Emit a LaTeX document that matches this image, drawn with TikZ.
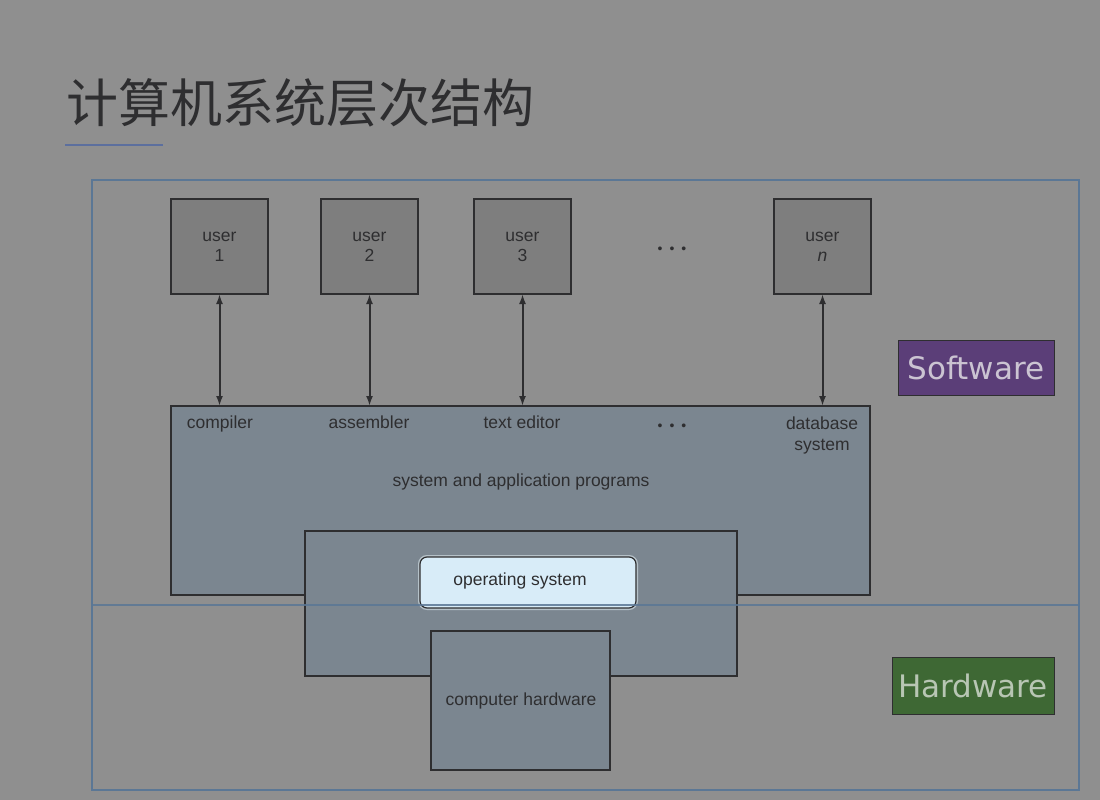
\documentclass[tikz,border=0pt]{standalone}
\usepackage{fontspec}
\setmainfont{Liberation Sans}
\newfontfamily\cjk{Noto Sans CJK SC}
\newfontfamily\tagfont{DejaVu Sans}
\usetikzlibrary{positioning}
\usetikzlibrary{arrows.meta}

\definecolor{bgcol}{HTML}{8F8F8F}
\definecolor{framecol}{HTML}{5B7795}
\definecolor{userfill}{HTML}{7E7E7E}
\definecolor{progfill}{HTML}{7B8690}
\definecolor{osfill}{HTML}{D8ECF8}
\definecolor{inkcol}{HTML}{2E2E30}
\definecolor{swfill}{HTML}{5B3E78}
\definecolor{hwfill}{HTML}{3E6834}

\newcommand{\threedots}{\fontsize{14}{14}\selectfont\textbullet\hspace{7pt}\textbullet\hspace{7pt}\textbullet}

\begin{document}
\begin{tikzpicture}[x=1pt,y=-1pt,
                    box/.style={draw=inkcol,line width=1.2pt,inner sep=0pt,outer sep=0pt},
                    userbox/.style={box,fill=userfill,minimum width=97pt,minimum height=95pt,
                                    align=center,font=\fontsize{17.5}{20}\selectfont,text=inkcol},
                    lbl/.style={font=\fontsize{17.5}{21.5}\selectfont,text=inkcol,align=center,
                                inner sep=0pt,text height=12.5pt,text depth=3.5pt},
                    tag/.style={draw=inkcol,line width=0.8pt,inner sep=0pt,
                                font=\tagfont\fontsize{31}{33}\selectfont},
                    link/.style={{Latex[length=10pt,width=7pt]}-{Latex[length=10pt,width=7pt]},
                                 line width=2pt,draw=inkcol}]
                    \fill[bgcol] (0,0) rectangle (1100,800);
                    \useasboundingbox (0,0) rectangle (1100,800);

                    \node[anchor=west,text=inkcol,font=\cjk\fontsize{52}{56}\selectfont] (title) at(63,103) {计算机系统层次结构};
                    \draw[color={rgb,255:red,92;green,111;blue,158},line width=2pt] (65,145) -- (163,145);

                    \coordinate (fnw) at(92,180);
                    \coordinate (fse) at(1079,790);
                    \draw[framecol,line width=1.2pt] (fnw) rectangle (fse);

                    \node[userbox] (u1) at(219.5,246.5) {user\\1};
                    \node[userbox] (u2) at(369.5,246.5) {user\\2};
                    \node[userbox] (u3) at(522.5,246.5) {user\\3};
                    \node[userbox] (un) at(822.5,246.5) {user\\\textit{n}};
                    \node[text=inkcol,inner sep=0pt] (udots) at(672,250) {\threedots};

                    \node[box,fill=progfill,minimum width=699pt,minimum height=189pt] (apps) at(520.5,500.5) {};
                    \foreach \u in {u1,u2,u3,un}
                        \draw[link] (\u.south) -- (\u.south |- apps.north);

                    \node[lbl] (comp) at(220,424) {compiler};
                    \node[lbl] (asm) at(369,424) {assembler};
                    \node[lbl] (edit) at(522,424) {text editor};
                    \node[text=inkcol,inner sep=0pt] (pdots) at(672,427) {\threedots};
                    \node[lbl] (dbs) at(822,446) {database\\system};
                    \node[lbl] (progs) at(521,482) {system and application programs};

                    \node[box,fill=progfill,minimum width=432pt,minimum height=145pt] (os) at(521,603.5) {};
                    \node[box,fill=progfill,minimum width=179pt,minimum height=139pt] (hw) at(520.5,700.5) {};
                    \node[lbl] (hwtext) at(521,701) {computer hardware};

                    \node[box,fill=osfill,rounded corners=7pt,minimum width=216pt,minimum height=51pt,
                          preaction={draw=osfill!60!gray,line width=4pt}] (osl) at(528,582.5) {};
                    \node[lbl] (ostext) at(520,581) {operating system};

                    \draw[framecol,line width=1.2pt,opacity=0.85] (fnw |- 0,605) -- (fse |- 0,605);

                    \node[tag,fill=swfill,text={rgb,255:red,203;green,196;blue,210},
                          minimum width=156pt,minimum height=55pt] (sw) at(976,367.5) {Software};
                    \node[tag,fill=hwfill,text={rgb,255:red,184;green,198;blue,180},
                          minimum width=162pt,minimum height=57pt] (hwtag) at(973,685.5) {Hardware};
                \end{tikzpicture}
\end{document}
